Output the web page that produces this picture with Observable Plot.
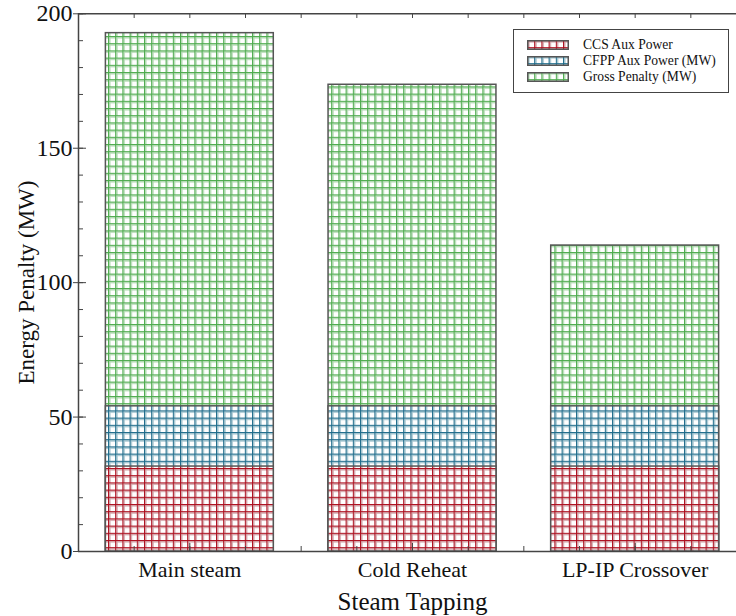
<!DOCTYPE html>
<html>
<head>
<meta charset="utf-8">
<script src="https://cdn.jsdelivr.net/npm/d3@7"></script>
<script src="https://cdn.jsdelivr.net/npm/@observablehq/plot@0.6"></script>
<style>
  html, body { margin: 0; padding: 0; background: white; }
  #wrap { position: relative; width: 736px; height: 616px; overflow: hidden; }
  #legend {
    position: absolute; left: 513px; top: 29px; width: 216px; height: 64px;
    box-sizing: border-box; border: 1px solid #444; background: white;
    font-family: "Liberation Serif", serif; font-size: 13.6px; color: #111;
  }
  .row { position: absolute; left: 13px; height: 10px; display: flex; align-items: center; }
  .row svg { display: block; }
  .row span { margin-left: 14px; white-space: nowrap; line-height: 10px; }
</style>
</head>
<body>
<div id="wrap"></div>
<script>
// ---- data ----
const categories = ["Main steam", "Cold Reheat", "LP-IP Crossover"];
const ccsAuxPower = [31.6, 31.6, 31.6];
const cfppAuxPower = [54.0, 54.0, 54.0];
const grossPenalty = [192.8, 173.6, 113.8];
const seriesNames = ["CCS Aux Power", "CFPP Aux Power (MW)", "Gross Penalty (MW)"];
const yTicks = [0, 50, 100, 150, 200];

const rows = categories.map((c, i) => ({
  i, category: c, ccs: ccsAuxPower[i], cfpp: cfppAuxPower[i], gross: grossPenalty[i]
}));

const halfBar = 0.377;
const palette = {
  red:   {id: "pat-red",   dark: "#ad0c1c", light: "#d4a7ac"},
  blue:  {id: "pat-blue",  dark: "#1d6a8a", light: "#a8c8d2"},
  green: {id: "pat-green", dark: "#4caa4c", light: "#b8ddb8"}
};

const minorY = d3.range(0, 201, 10);
const minorX = d3.range(-0.25, 2.5, 0.25);
const barStroke = "#555";

const chart = Plot.plot({
  width: 736,
  height: 616,
  marginLeft: 78,
  marginRight: 0,
  marginTop: 13,
  marginBottom: 65,
  style: {fontFamily: "Liberation Serif, serif", background: "white", color: "#111"},
  x: {type: "linear", domain: [-0.5, 2.5], range: [78, 746]},
  y: {domain: [0, 200], range: [551, 13.3]},
  marks: [
    Plot.rectY(rows, {x1: d => d.i - halfBar, x2: d => d.i + halfBar, y1: 0, y2: "gross",
      fill: `url(#${palette.green.id})`, stroke: barStroke, strokeWidth: 1.5}),
    Plot.rectY(rows, {x1: d => d.i - halfBar, x2: d => d.i + halfBar, y1: 0, y2: "cfpp",
      fill: `url(#${palette.blue.id})`, stroke: barStroke, strokeWidth: 1.5}),
    Plot.rectY(rows, {x1: d => d.i - halfBar, x2: d => d.i + halfBar, y1: 0, y2: "ccs",
      fill: `url(#${palette.red.id})`, stroke: barStroke, strokeWidth: 1.5}),
    // axis lines
    Plot.ruleX([-0.5], {stroke: "#444", strokeWidth: 1.5}),
    Plot.ruleY([0], {stroke: "#444", strokeWidth: 1.5}),
    Plot.ruleY([200], {stroke: "#444", strokeWidth: 1.5}),
    // y ticks
    Plot.axisY({ticks: yTicks, tickSize: 0, tickPadding: 6, fontSize: 24, tickFormat: d => d}),
    Plot.axisY({ticks: yTicks, tickSize: 13, dx: 8, text: null, stroke: "#444"}),
    Plot.axisY({ticks: minorY, tickSize: 5, dx: 5, text: null, stroke: "#444"}),
    // x ticks
    Plot.axisX({ticks: [0, 1, 2], tickSize: 0, tickPadding: 10, fontSize: 22,
      tickFormat: i => categories[i]}),
    Plot.axisX({ticks: [0, 1, 2], tickSize: 8, dy: -8, text: null, stroke: "#444"}),
    Plot.axisX({ticks: minorX, tickSize: 5, dy: -5, text: null, stroke: "#444"}),
    Plot.axisX({anchor: "top", ticks: minorX, tickSize: 4, dy: 4, text: null, stroke: "#444"}),
    // axis labels
    Plot.text(["Steam Tapping"], {frameAnchor: "bottom", dx: 5, dy: 58, fontSize: 25, text: d => d}),
    Plot.text(["Energy Penalty (MW)"], {frameAnchor: "left", dx: -52, rotate: -90, fontSize: 23,
      textAnchor: "middle", text: d => d})
  ]
});

function addPattern(defs, {id, dark, light}) {
  const s = 7.2;
  const p = defs.append("pattern").attr("id", id)
    .attr("patternUnits", "userSpaceOnUse").attr("width", s).attr("height", s);
  p.append("rect").attr("width", s).attr("height", s).attr("fill", "white");
  p.append("rect").attr("x", 1).attr("y", 0).attr("width", 1.5).attr("height", s).attr("fill", light);
  p.append("rect").attr("x", 0).attr("y", 1).attr("width", s).attr("height", 1.5).attr("fill", light);
  p.append("rect").attr("x", 0).attr("y", 0).attr("width", 1).attr("height", s).attr("fill", dark);
  p.append("rect").attr("x", 0).attr("y", 0).attr("width", s).attr("height", 1).attr("fill", dark);
}

const svg = d3.select(chart);
const defs = svg.insert("defs", ":first-child");
Object.values(palette).forEach(p => addPattern(defs, p));

const wrap = document.getElementById("wrap");
wrap.appendChild(chart);

// legend overlay
const legend = d3.select(wrap).append("div").attr("id", "legend");
const legendPats = [palette.red, palette.blue, palette.green];
const rowTops = [10, 26, 42];
seriesNames.forEach((name, k) => {
  const row = legend.append("div").attr("class", "row").style("top", rowTops[k] + "px");
  const sw = row.append("svg").attr("width", 42).attr("height", 10);
  const d = sw.append("defs");
  const pid = legendPats[k].id + "-lg";
  addPattern(d, {...legendPats[k], id: pid});
  sw.append("rect").attr("x", 0.75).attr("y", 0.75).attr("width", 40.5).attr("height", 8.5)
    .attr("fill", `url(#${pid})`).attr("stroke", "#555").attr("stroke-width", 1.5);
  row.append("span").text(name);
});
</script>
</body>
</html>
